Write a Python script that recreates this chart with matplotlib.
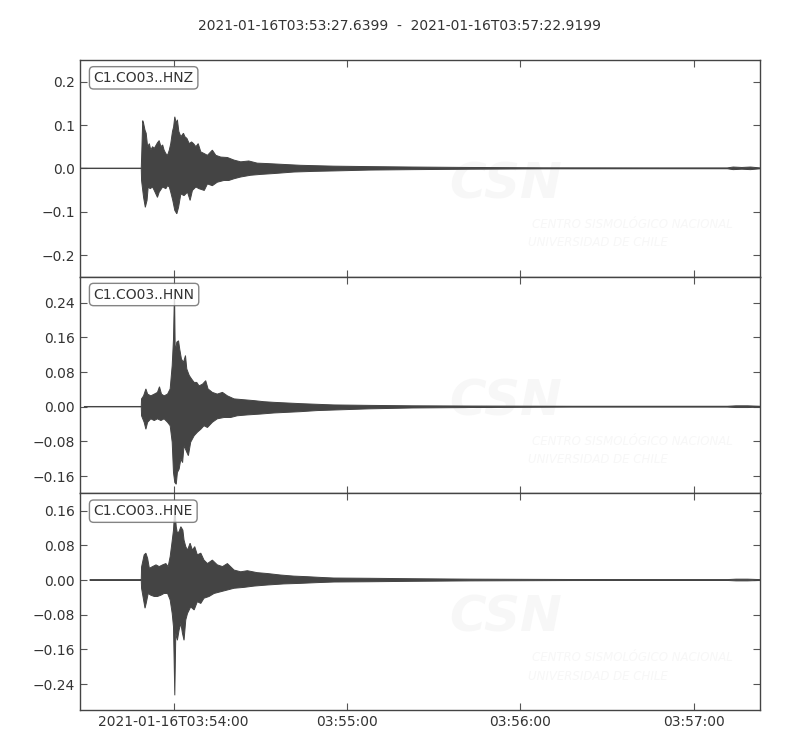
import numpy as np
import matplotlib
matplotlib.use("Agg")
import matplotlib.pyplot as plt
from datetime import datetime

# Tiempo inicial y final de la ventana (segundos desde el inicio)
t_inicio = datetime(2021, 1, 16, 3, 53, 27, 639900)
duracion = 235.28
titulo = "2021-01-16T03:53:27.6399  -  2021-01-16T03:57:22.9199"

canales = ["C1.CO03..HNZ", "C1.CO03..HNN", "C1.CO03..HNE"]

# Envolventes: (segundos, aceleracion)
hnz_sup = [(0, 0.0005), (21.2, 0.0005), (21.4, 0.042), (21.7, 0.110), (22.0, 0.104), (22.5, 0.088),
           (22.9, 0.081), (23.4, 0.050), (24.0, 0.057), (24.5, 0.042), (25.1, 0.050), (25.7, 0.046),
           (26.8, 0.059), (27.4, 0.064), (28.0, 0.050), (28.6, 0.054), (29.1, 0.042), (29.7, 0.034),
           (30.3, 0.030), (30.9, 0.042), (31.4, 0.057), (32.0, 0.085), (32.4, 0.096), (32.8, 0.119),
           (33.3, 0.104), (33.7, 0.112), (34.2, 0.085), (34.9, 0.073), (35.8, 0.081), (36.3, 0.073),
           (37.0, 0.069), (37.8, 0.057), (38.6, 0.061), (39.3, 0.057), (40.1, 0.050), (40.9, 0.057),
           (41.8, 0.038), (43.0, 0.034), (44.1, 0.030), (45.8, 0.042), (47.0, 0.030), (48.7, 0.026),
           (51.0, 0.025), (53.3, 0.019), (55.6, 0.015), (58.4, 0.017), (61.3, 0.012), (64.8, 0.011),
           (70.5, 0.009), (76.3, 0.007), (82.0, 0.006), (87.8, 0.005), (100, 0.004), (115, 0.003),
           (135, 0.002), (160, 0.0012), (200, 0.001), (224, 0.001), (226, 0.003), (229, 0.002),
           (232, 0.003), (235.28, 0.001)]
hnz_inf = [(0, -0.0005), (21.2, -0.0005), (21.3, -0.028), (22.0, -0.067), (22.6, -0.090), (23.2, -0.074),
           (23.6, -0.043), (24.3, -0.047), (25.1, -0.043), (25.7, -0.051), (26.8, -0.067), (27.4, -0.055),
           (28.6, -0.043), (29.7, -0.047), (30.3, -0.040), (30.9, -0.043), (31.4, -0.055), (32.1, -0.074),
           (32.8, -0.097), (33.5, -0.105), (34.1, -0.090), (34.9, -0.059), (36.0, -0.063), (37.2, -0.055),
           (38.1, -0.074), (38.9, -0.051), (40.1, -0.043), (41.2, -0.047), (43.0, -0.051), (44.1, -0.036),
           (45.8, -0.040), (47.5, -0.032), (49.8, -0.028), (51.5, -0.028), (53.3, -0.024), (55.6, -0.020),
           (59.0, -0.016), (62.5, -0.014), (67.1, -0.012), (74.0, -0.0085), (80.9, -0.007), (87.8, -0.006),
           (100, -0.004), (115, -0.003), (135, -0.002), (160, -0.0012), (200, -0.001), (224, -0.001),
           (226, -0.003), (229, -0.002), (232, -0.003), (235.28, -0.001)]

hnn_sup = [(1.5, 0.0005), (21.2, 0.0005), (21.3, 0.018), (22.0, 0.025), (22.8, 0.041), (23.4, 0.029),
           (24.5, 0.025), (25.7, 0.029), (26.8, 0.033), (27.5, 0.046), (28.2, 0.029), (29.1, 0.025),
           (30.3, 0.029), (31.2, 0.041), (31.9, 0.095), (32.35, 0.156), (32.7, 0.270), (32.95, 0.125),
           (33.5, 0.149), (34.1, 0.152), (34.5, 0.133), (35.1, 0.110), (35.8, 0.102), (36.5, 0.118),
           (36.95, 0.087), (37.8, 0.072), (38.6, 0.064), (39.5, 0.056), (40.4, 0.056), (41.2, 0.048),
           (42.4, 0.052), (43.5, 0.060), (44.3, 0.041), (45.8, 0.033), (47.5, 0.029), (49.3, 0.033),
           (51.0, 0.025), (53.3, 0.018), (56.7, 0.016), (60.2, 0.014), (63.6, 0.0115), (67.1, 0.010),
           (71.7, 0.0085), (76.3, 0.007), (82.0, 0.0055), (87.8, 0.004), (100, 0.003), (115, 0.002),
           (135, 0.0015), (170, 0.001), (224, 0.001), (227, 0.002), (231, 0.002), (235.28, 0.001)]
hnn_inf = [(1.5, -0.0005), (21.2, -0.0005), (21.3, -0.021), (22.2, -0.036), (22.8, -0.052), (23.4, -0.036),
           (24.5, -0.028), (25.7, -0.032), (26.8, -0.028), (28.0, -0.032), (29.1, -0.028), (30.3, -0.036),
           (31.2, -0.044), (31.9, -0.082), (32.35, -0.152), (32.8, -0.175), (33.3, -0.179), (33.7, -0.152),
           (34.3, -0.144), (34.9, -0.121), (35.5, -0.129), (36.0, -0.090), (36.95, -0.105), (37.5, -0.113),
           (38.3, -0.082), (39.5, -0.067), (40.6, -0.059), (41.8, -0.052), (42.9, -0.044), (44.1, -0.048),
           (45.8, -0.036), (47.5, -0.028), (49.8, -0.025), (52.1, -0.025), (54.4, -0.021), (57.9, -0.019),
           (62.5, -0.017), (67.1, -0.0145), (71.7, -0.013), (76.3, -0.0115), (82.0, -0.009), (87.8, -0.0077),
           (100, -0.005), (115, -0.003), (135, -0.002), (170, -0.001), (224, -0.001), (227, -0.002),
           (231, -0.002), (235.28, -0.001)]

hne_sup = [(3.4, 0.0005), (21.2, 0.0005), (21.3, 0.030), (22.2, 0.058), (22.8, 0.062), (23.4, 0.050),
           (24.0, 0.027), (25.1, 0.031), (26.3, 0.035), (27.4, 0.031), (28.6, 0.035), (29.7, 0.038),
           (30.5, 0.031), (31.2, 0.054), (31.8, 0.085), (32.35, 0.115), (32.8, 0.165), (33.3, 0.123),
           (33.7, 0.108), (34.3, 0.112), (34.9, 0.123), (35.6, 0.115), (36.0, 0.092), (36.6, 0.077),
           (37.2, 0.069), (38.1, 0.085), (38.9, 0.069), (39.7, 0.077), (40.6, 0.058), (41.8, 0.062),
           (42.9, 0.046), (44.1, 0.038), (45.8, 0.046), (47.5, 0.035), (49.3, 0.031), (51.0, 0.038),
           (53.3, 0.023), (55.6, 0.019), (57.9, 0.0215), (61.3, 0.017), (64.8, 0.015), (69.4, 0.0115),
           (74.0, 0.009), (78.6, 0.0077), (83.2, 0.006), (87.8, 0.0046), (100, 0.004), (115, 0.003),
           (135, 0.002), (170, 0.0012), (224, 0.001), (227, 0.002), (231, 0.002), (235.28, 0.001)]
hne_inf = [(3.4, -0.0005), (21.2, -0.0005), (21.3, -0.019), (22.0, -0.046), (22.5, -0.065), (22.9, -0.054),
           (23.6, -0.031), (24.5, -0.035), (25.7, -0.038), (26.8, -0.038), (28.0, -0.035), (29.1, -0.031),
           (30.3, -0.031), (31.2, -0.046), (31.9, -0.077), (32.35, -0.108), (32.8, -0.266), (33.15, -0.123),
           (33.7, -0.139), (34.3, -0.115), (34.9, -0.100), (35.45, -0.123), (36.0, -0.139), (36.6, -0.092),
           (37.2, -0.077), (38.3, -0.062), (39.5, -0.069), (40.6, -0.050), (41.8, -0.054), (42.9, -0.042),
           (44.65, -0.038), (46.4, -0.031), (48.7, -0.027), (51.0, -0.023), (53.3, -0.019), (56.7, -0.017),
           (60.2, -0.014), (64.8, -0.0115), (70.5, -0.009), (76.3, -0.0077), (82.0, -0.006), (87.8, -0.0046),
           (100, -0.004), (115, -0.003), (135, -0.002), (170, -0.0012), (224, -0.001), (227, -0.002),
           (231, -0.002), (235.28, -0.001)]

envolventes = [(hnz_sup, hnz_inf), (hnn_sup, hnn_inf), (hne_sup, hne_inf)]
limites_y = [(-0.25, 0.25), (-0.2, 0.3), (-0.3, 0.2)]
ticks_y = [[-0.2, -0.1, 0.0, 0.1, 0.2],
           [-0.16, -0.08, 0.0, 0.08, 0.16, 0.24],
           [-0.24, -0.16, -0.08, 0.0, 0.08, 0.16]]
formatos_y = ["{:.1f}", "{:.2f}", "{:.2f}"]

minutos_x = [54, 55, 56, 57]
etiquetas_x = ["2021-01-16T03:54:00", "03:55:00", "03:56:00", "03:57:00"]
pos_x = [(datetime(2021, 1, 16, 3, m, 0) - t_inicio).total_seconds() for m in minutos_x]

color_traza = "#444444"
color_texto = "#333333"
color_agua = "#f7f7f7"

fig, axes = plt.subplots(3, 1, figsize=(8, 7.5), dpi=100, sharex=True)
fig.subplots_adjust(left=0.1, right=0.95, top=0.92, bottom=0.0533, hspace=0)

for i, ax in enumerate(axes):
    sup, inf = envolventes[i]
    ts, vs = zip(*sup)
    ti, vi = zip(*inf)
    xs = np.concatenate([ts, ti[::-1]])
    ys = np.concatenate([vs, vi[::-1]])
    ax.fill(xs, ys, color=color_traza, lw=0.7, zorder=3)

    # marca de agua muy tenue
    ax.text(0.626, 0.426, "CSN", transform=ax.transAxes, fontsize=36, fontweight="bold",
            style="italic", color=color_agua, ha="center", va="center", zorder=0)
    ax.text(0.665, 0.241, "CENTRO SISMOLÓGICO NACIONAL", transform=ax.transAxes, fontsize=8.5,
            style="italic", color=color_agua, ha="left", va="center", zorder=0, clip_on=True)
    ax.text(0.659, 0.157, "UNIVERSIDAD DE CHILE", transform=ax.transAxes, fontsize=8.5,
            style="italic", color=color_agua, ha="left", va="center", zorder=0, clip_on=True)

    ax.text(0.02, 0.95, canales[i], transform=ax.transAxes, fontsize=10, ha="left", va="top",
            color=color_texto, zorder=5,
            bbox=dict(boxstyle="round", fc="w", ec="#666666", alpha=0.8))

    ax.set_ylim(*limites_y[i])
    ax.set_yticks(ticks_y[i])
    ax.set_yticklabels([formatos_y[i].format(v).replace("-", "\u2212") for v in ticks_y[i]])
    ax.tick_params(direction="in", top=True, right=True, length=5, width=0.8,
                   color="#555555", labelcolor=color_texto, labelsize=10)
    for s in ax.spines.values():
        s.set_color("#444444")
        s.set_linewidth(1.0)

axes[-1].set_xlim(0, duracion)
axes[-1].set_xticks(pos_x)
axes[-1].set_xticklabels(etiquetas_x)

fig.suptitle(titulo, y=0.975, fontsize=10, color=color_texto)

plt.savefig("out.png")
